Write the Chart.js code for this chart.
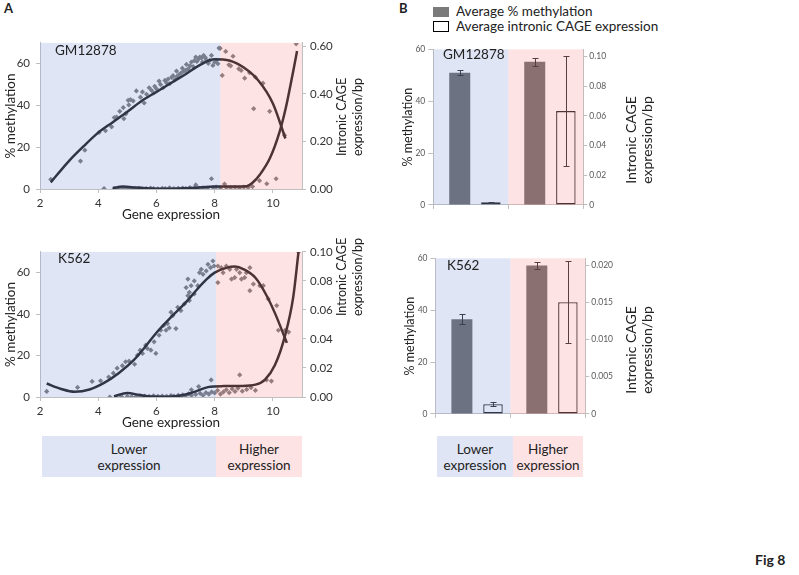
<!DOCTYPE html>
<html>
<head>
<meta charset="utf-8">
<script src="https://cdn.jsdelivr.net/npm/chart.js@4/dist/chart.umd.min.js"></script>
<style>
  body { margin: 0; background: #fff; font-family: Lato, sans-serif; }
  #fig { position: relative; width: 799px; height: 575px; overflow: hidden; color: #222; }
  #fig canvas { position: absolute; }
  .lbl { position: absolute; white-space: nowrap; line-height: 1; }
  .rot { position: absolute; transform: translate(-50%, -50%) rotate(-90deg); text-align: center; white-space: nowrap; }
  .box { position: absolute; display: flex; align-items: center; justify-content: center; text-align: center; font-size: 13.5px; line-height: 16px; }
</style>
</head>
<body>
<div id="fig">
  <div class="lbl" style="left:4px;top:2px;font-weight:bold;font-size:13px;">A</div>
  <div class="lbl" style="left:399px;top:2px;font-weight:bold;font-size:13px;">B</div>

  <canvas id="gmScatter" width="380" height="193" style="left:0;top:30px;"></canvas>
  <canvas id="k562Scatter" width="380" height="192" style="left:0;top:239px;"></canvas>
  <canvas id="gmBars" width="230" height="173" style="left:400px;top:40px;"></canvas>
  <canvas id="k562Bars" width="230" height="173" style="left:401.5px;top:249px;"></canvas>

  <div class="lbl" style="left:55px;top:44px;font-size:13.5px;">GM12878</div>
  <div class="lbl" style="left:58px;top:252px;font-size:13.5px;">K562</div>
  <div class="lbl" style="left:443px;top:48px;font-size:13.5px;">GM12878</div>
  <div class="lbl" style="left:447px;top:259px;font-size:13.5px;">K562</div>

  <div class="rot" style="left:350px;top:117px;font-size:12.5px;line-height:16px;">Intronic CAGE<br>expression/bp</div>
  <div class="rot" style="left:350px;top:277px;font-size:12.5px;line-height:16px;">Intronic CAGE<br>expression/bp</div>
  <div class="rot" style="left:639px;top:140px;font-size:14px;line-height:16px;">Intronic CAGE<br>expression/bp</div>
  <div class="rot" style="left:639px;top:350px;font-size:14px;line-height:16px;">Intronic CAGE<br>expression/bp</div>

  <!-- legend for panel B -->
  <div style="position:absolute;left:433px;top:7px;width:16px;height:10px;background:#7a7a7a;"></div>
  <div class="lbl" style="left:456px;top:5px;font-size:13.5px;">Average % methylation</div>
  <div style="position:absolute;left:433px;top:21px;width:14px;height:9px;border:1px solid #000;background:#fff;"></div>
  <div class="lbl" style="left:456px;top:20px;font-size:13.5px;">Average intronic CAGE expression</div>

  <!-- expression boxes -->
  <div class="box" style="left:42px;top:436px;width:174px;height:41px;background:#dfe5f5;">Lower<br>expression</div>
  <div class="box" style="left:216px;top:436px;width:86px;height:41px;background:#fee3e4;">Higher<br>expression</div>
  <div class="box" style="left:437px;top:436px;width:76px;height:41px;background:#dfe5f5;">Lower<br>expression</div>
  <div class="box" style="left:513px;top:436px;width:70px;height:41px;background:#fee3e4;">Higher<br>expression</div>

  <div class="lbl" style="left:755px;top:553px;font-weight:bold;font-size:14px;">Fig 8</div>
</div>

<script>
// ---- panel A, GM12878 ----
const gmMethX = [2.37, 3.39, 3.54, 4.03, 4.25, 4.46, 4.55, 4.63, 4.74, 4.86, 4.88, 4.95, 5.03, 5.05, 5.11, 5.2, 5.31, 5.45, 5.52, 5.58, 5.66, 5.75, 5.83, 5.91, 5.94, 6.0, 6.09, 6.14, 6.23, 6.29, 6.35, 6.4, 6.46, 6.52, 6.57, 6.63, 6.69, 6.7, 6.78, 6.85, 6.89, 6.94, 7.0, 7.03, 7.09, 7.15, 7.2, 7.26, 7.3, 7.35, 7.39, 7.45, 7.49, 7.55, 7.58, 7.62, 7.68, 7.71, 7.78, 7.83, 7.89, 7.94, 8.0, 8.06, 8.11, 8.15,
                 8.19, 8.26, 8.38, 8.49, 8.55, 8.63, 8.83, 8.91, 9.03, 9.2, 9.34, 9.4, 9.66, 9.89, 10.4];
const gmMethY = [4.6, 13.4, 18.6, 27.1, 27.9, 29.8, 34.2, 34.5, 37.2, 39.0, 33.7, 36.0, 42.5, 40.3, 42.8, 42.2, 47.0, 44.0, 46.5, 41.2, 45.4, 48.5, 47.3, 46.0, 49.2, 48.0, 51.7, 50.1, 48.5, 52.0, 50.8, 52.7, 50.5, 53.5, 54.3, 52.4, 56.5, 53.8, 54.9, 55.6, 57.9, 56.5, 56.8, 59.7, 57.6, 59.0, 60.8, 58.7, 61.5, 63.2, 61.1, 62.3, 63.2, 62.8, 60.8, 64.0, 63.0, 61.9, 60.2, 61.6, 64.0, 59.2, 60.8, 61.6, 60.0, 67.5,
                 67.4, 54.4, 65.9, 59.5, 59.0, 63.6, 57.6, 56.8, 53.1, 55.7, 38.5, 53.6, 50.7, 37.2, 25.8];
const gmCageX = [4.2, 4.55, 4.7, 4.85, 5.0, 5.1, 5.25, 5.4, 5.5, 5.65, 5.8, 5.9, 6.05, 6.2, 6.3, 6.45, 6.6, 6.75, 6.9, 7.0, 7.15, 7.3, 7.45, 7.6, 7.75, 7.95, 8.05, 8.2, 8.4, 8.55, 8.7, 8.85, 9.0, 9.15, 9.3,
                 7.35, 7.89, 8.34, 9.54, 9.79, 10.11, 10.8];
const gmCageY = [0.002, 0.001, 0.004, 0.002, 0.003, 0.001, 0.002, 0.003, 0.001, 0.002, 0.004, 0.002, 0.001, 0.003, 0.002, 0.005, 0.002, 0.003, 0.004, 0.002, 0.006, 0.003, 0.004, 0.005, 0.003, 0.006, 0.008, 0.004, 0.006, 0.005, 0.007, 0.004, 0.008, 0.006, 0.010,
                 0.017, 0.043, 0.021, 0.035, 0.022, 0.043, 0.610];
const gmMethCurveX = [2.37, 3, 3.5, 4, 4.5, 5, 5.5, 6, 6.5, 7, 7.5, 8, 8.5, 9, 9.5, 10, 10.43];
const gmMethCurveY = [3.2, 13.5, 20.5, 27, 32, 37, 42.3, 46.5, 50.8, 55, 59.5, 62.2, 61.6, 58.2, 52, 41, 24.2];
const gmCageCurveX = [4.5, 4.85, 5.3, 5.8, 6.4, 7.2, 8.0, 8.6, 9.1, 9.3, 9.55, 9.9, 10.23, 10.46, 10.69, 10.83];
const gmCageCurveY = [0.004, 0.010, 0.006, 0.002, 0.001, 0.004, 0.010, 0.011, 0.012, 0.026, 0.06, 0.13, 0.24, 0.35, 0.49, 0.58];
const gmCutoff = 8.2;

// ---- panel A, K562 ----
const k562MethX = [2.23, 3.29, 3.79, 4.08, 4.36, 4.52, 4.65, 4.83, 4.94, 5.06, 5.25, 5.35, 5.44, 5.52, 5.63, 5.69, 5.81, 5.92, 5.98, 6.09, 6.15, 6.25, 6.33, 6.38, 6.44, 6.5, 6.56, 6.67, 6.73, 6.84, 6.96, 7.02, 7.08, 7.08, 7.13, 7.13, 7.19, 7.3, 7.3, 7.42, 7.48, 7.54, 7.6, 7.71, 7.77, 7.86, 7.94, 7.98,
                   8.11, 8.11, 8.23, 8.29, 8.4, 8.52, 8.58, 8.69, 8.75, 8.86, 8.92, 9.03, 9.09, 9.21, 9.21, 9.33, 9.55, 9.67, 9.84, 10.13, 10.19, 10.42, 10.54];
const k562MethY = [2.7, 4.6, 7.5, 7.8, 9.6, 11.5, 13.9, 15.1, 17.0, 17.3, 15.8, 20.2, 22.6, 21.0, 25.0, 23.4, 22.6, 26.6, 21.0, 29.8, 32.2, 34.5, 32.2, 35.4, 33.3, 40.9, 39.3, 33.0, 43.3, 41.7, 44.9, 52.8, 48.9, 56.9, 50.5, 46.5, 53.7, 49.7, 56.0, 53.7, 60.0, 61.6, 59.2, 60.8, 64.0, 62.4, 65.6, 63.2,
                   63.2, 55.2, 62.4, 60.0, 63.2, 61.6, 56.9, 57.6, 61.6, 60.0, 56.9, 57.6, 60.0, 62.4, 51.3, 54.5, 53.7, 53.7, 47.3, 44.1, 32.2, 32.2, 31.3];
const k562CageX = [4.4, 4.8, 5.0, 5.15, 5.3, 5.45, 5.6, 5.75, 5.9, 6.05, 6.2, 6.35, 6.5, 6.6, 6.75, 6.9, 7.0, 7.1, 7.2, 7.35, 7.5, 7.6, 7.7, 7.8, 7.9, 8.0, 8.1, 8.2, 8.3, 8.4, 8.5, 8.6, 8.7, 8.8, 8.95, 9.1, 9.25, 9.4,
                   7.45, 7.88, 8.86, 9.78, 9.95, 7.2, 10.88];
const k562CageY = [0.0, 0.0003, 0.0005, 0.0002, 0.0004, 0.0003, 0.0006, 0.0004, 0.0008, 0.0005, 0.0007, 0.0004, 0.001, 0.0006, 0.0012, 0.0015, 0.0008, 0.0022, 0.001, 0.0018, 0.0025, 0.0012, 0.003, 0.002, 0.0035, 0.0028, 0.0045, 0.002, 0.0035, 0.005, 0.003, 0.0055, 0.0038, 0.006, 0.004, 0.0052, 0.0065, 0.0045,
                   0.0072, 0.0118, 0.0152, 0.0118, 0.011, 0.005, 0.100];
const k562MethCurveX = [2.23, 2.7, 3.2, 3.7, 4.2, 4.7, 5.2, 5.6, 6.0, 6.5, 7.0, 7.4, 7.7, 8.0, 8.4, 8.7, 9.0, 9.4, 9.8, 10.1, 10.48];
const k562MethCurveY = [6.5, 4.0, 2.5, 3.6, 6.8, 11.5, 17.5, 24, 31, 38.5, 45.5, 52, 56.5, 60, 62.3, 62.9, 61.6, 57.5, 48.5, 39.5, 26.1];
const k562CageCurveX = [4.54, 5.0, 5.4, 5.8, 6.4, 6.9, 7.3, 7.77, 8.3, 8.9, 9.4, 9.73, 10.07, 10.42, 10.7, 10.88];
const k562CageCurveY = [0.0004, 0.0027, 0.0015, 0.0003, 0.0002, 0.0012, 0.0035, 0.0068, 0.0075, 0.0076, 0.0085, 0.012, 0.022, 0.0425, 0.069, 0.1];
const k562Cutoff = 8.05;

// ---- panel B ----
const groups = ['Lower expression', 'Higher expression'];
const gmAvgMeth = [51.0, 55.2];
const gmAvgMethErr = [1.1, 1.6];
const gmAvgCage = [0.0018, 0.0633];
const gmAvgCageErr = [0.0004, 0.037];
const k562AvgMeth = [36.5, 57.2];
const k562AvgMethErr = [2.0, 1.4];
const k562AvgCage = [0.0013, 0.015];
const k562AvgCageErr = [0.0003, 0.0055];

const blueBand = 'rgba(151,171,222,0.31)';
const pinkBand = 'rgba(248,165,168,0.31)';
const axisGray = '#bfbfbf';
const font = 'Lato';

function pts(xs, ys) {
    return xs.map((x, i) => ({ x: x, y: ys[i] }));
}

// error bars + translucent expression bands on top of the plot area
const overlayPlugin = {
    id: 'overlay',
    afterDatasetsDraw(chart, args, opts) {
        const ctx = chart.ctx;
        const area = chart.chartArea;
        chart.data.datasets.forEach((ds, i) => {
            if (!ds.errors) return;
            const meta = chart.getDatasetMeta(i);
            const ys = chart.scales[ds.yAxisID];
            ctx.save();
            ctx.strokeStyle = '#111';
            ctx.lineWidth = 1;
            meta.data.forEach((bar, j) => {
                const top = Math.round(ys.getPixelForValue(ds.data[j] + ds.errors[j])) + 0.5;
                const bot = Math.round(ys.getPixelForValue(ds.data[j] - ds.errors[j])) + 0.5;
                const cx = Math.round(bar.x) + 0.5;
                ctx.beginPath();
                ctx.moveTo(cx, top); ctx.lineTo(cx, bot);
                ctx.moveTo(cx - 3, top); ctx.lineTo(cx + 3, top);
                ctx.moveTo(cx - 3, bot); ctx.lineTo(cx + 3, bot);
                ctx.stroke();
            });
            ctx.restore();
        });
        const xs = chart.scales.x;
        (opts.bands || []).forEach(b => {
            const x1 = Math.max(area.left, xs.getPixelForValue(b.from));
            const x2 = Math.min(area.right, xs.getPixelForValue(b.to));
            ctx.fillStyle = b.color;
            ctx.fillRect(x1, area.top, x2 - x1, area.bottom - area.top);
        });
    }
};

function scatterChart(id, methX, methY, cageX, cageY, mcX, mcY, ccX, ccY, cutoff, cageMax, cageStep, topPad) {
    const ctx = document.getElementById(id).getContext('2d');
    const dot = { type: 'scatter', pointStyle: 'rectRot', pointRadius: 2.6, pointBackgroundColor: '#6a6a6a', pointBorderWidth: 0, showLine: false };
    const curve = { type: 'scatter', showLine: true, pointRadius: 0, borderColor: '#000', borderWidth: 2.5, cubicInterpolationMode: 'monotone' };
    return new Chart(ctx, {
        type: 'scatter',
        data: {
            datasets: [
                Object.assign({ label: 'methylation trend', data: pts(mcX, mcY), yAxisID: 'y' }, curve),
                Object.assign({ label: 'CAGE trend', data: pts(ccX, ccY), yAxisID: 'y1' }, curve),
                Object.assign({ label: '% methylation', data: pts(methX, methY), yAxisID: 'y' }, dot),
                Object.assign({ label: 'intronic CAGE', data: pts(cageX, cageY), yAxisID: 'y1' }, dot)
            ]
        },
        options: {
            responsive: false,
            animation: false,
            layout: { padding: { top: topPad, left: 3, right: 0, bottom: 0 } },
            plugins: {
                legend: { display: false },
                tooltip: { enabled: false },
                overlay: { bands: [
                    { from: 2, to: cutoff, color: blueBand },
                    { from: cutoff, to: 11, color: pinkBand }
                ] }
            },
            scales: {
                x: {
                    type: 'linear', min: 2, max: 11,
                    ticks: { stepSize: 2, includeBounds: false, padding: 3, color: '#333', font: { family: font, size: 11.5 } },
                    grid: { drawOnChartArea: false, tickLength: 4, color: axisGray },
                    border: { color: axisGray },
                    title: { display: true, text: 'Gene expression', padding: 0, color: '#222', font: { family: font, size: 13.5 } },
                    afterFit(s) { s.height = 34; }
                },
                y: {
                    position: 'left', min: 0, max: 70,
                    ticks: { stepSize: 20, includeBounds: false, padding: 6, color: '#333', font: { family: font, size: 11.5 } },
                    grid: { drawOnChartArea: false, tickLength: 4, color: axisGray },
                    border: { color: axisGray },
                    title: { display: true, text: '% methylation', padding: 0, color: '#222', font: { family: font, size: 13.5 } },
                    afterFit(s) { s.width = 37; }
                },
                y1: {
                    position: 'right', min: 0, max: cageMax,
                    ticks: { stepSize: cageStep, includeBounds: false, padding: 4, color: '#333', font: { family: font, size: 11.5 },
                             callback: v => v.toFixed(2) },
                    grid: { drawOnChartArea: false, tickLength: 4, color: axisGray },
                    border: { color: axisGray },
                    afterFit(s) { s.width = 78; }
                }
            }
        },
        plugins: [overlayPlugin]
    });
}

function barChart(id, meth, methErr, cage, cageErr, cageMax, cageStep, leftW) {
    const ctx = document.getElementById(id).getContext('2d');
    return new Chart(ctx, {
        type: 'bar',
        data: {
            labels: groups,
            datasets: [
                {
                    label: 'Average % methylation', data: meth, errors: methErr, yAxisID: 'y',
                    backgroundColor: '#595959', categoryPercentage: 0.59, barPercentage: 0.95
                },
                {
                    label: 'Average intronic CAGE expression', data: cage, errors: cageErr, yAxisID: 'y1',
                    backgroundColor: '#ffffff', borderColor: '#000', borderWidth: 1.3, borderSkipped: false,
                    categoryPercentage: 1.07, barPercentage: 0.486
                }
            ]
        },
        options: {
            responsive: false,
            animation: false,
            layout: { padding: { top: 9.3, left: 0, right: 0, bottom: 0 } },
            plugins: {
                legend: { display: false },
                tooltip: { enabled: false },
                overlay: { bands: [
                    { from: -0.5, to: 0.5, color: blueBand },
                    { from: 0.5, to: 1.5, color: pinkBand }
                ] }
            },
            scales: {
                x: {
                    ticks: { display: false },
                    grid: { offset: true, drawOnChartArea: false, tickLength: 4, color: axisGray },
                    border: { color: axisGray },
                    afterFit(s) { s.height = 8; }
                },
                y: {
                    position: 'left', min: 0, max: 60,
                    ticks: { stepSize: 20, includeBounds: false, padding: 3, color: '#595959', font: { family: font, size: 8.5 } },
                    grid: { drawOnChartArea: false, tickLength: 5, color: axisGray },
                    border: { color: axisGray },
                    title: { display: true, text: '% methylation', padding: 0, color: '#222', font: { family: font, size: 12.5 } },
                    afterFit(s) { s.width = leftW; }
                },
                y1: {
                    position: 'right', min: 0, max: cageMax,
                    ticks: { stepSize: cageStep, includeBounds: false, padding: 2, color: '#595959', font: { family: font, size: 8.5 } },
                    grid: { drawOnChartArea: false, tickLength: 4, color: axisGray },
                    border: { color: axisGray },
                    afterFit(s) { s.width = 46.7; }
                }
            }
        },
        plugins: [overlayPlugin]
    });
}

scatterChart('gmScatter', gmMethX, gmMethY, gmCageX, gmCageY, gmMethCurveX, gmMethCurveY, gmCageCurveX, gmCageCurveY, gmCutoff, 0.614, 0.2, 12);
scatterChart('k562Scatter', k562MethX, k562MethY, k562CageX, k562CageY, k562MethCurveX, k562MethCurveY, k562CageCurveX, k562CageCurveY, k562Cutoff, 0.1, 0.02, 12);
barChart('gmBars', gmAvgMeth, gmAvgMethErr, gmAvgCage, gmAvgCageErr, 0.105, 0.02, 33.3);
barChart('k562Bars', k562AvgMeth, k562AvgMethErr, k562AvgCage, k562AvgCageErr, 0.0209, 0.005, 33.5);
</script>
</body>
</html>
